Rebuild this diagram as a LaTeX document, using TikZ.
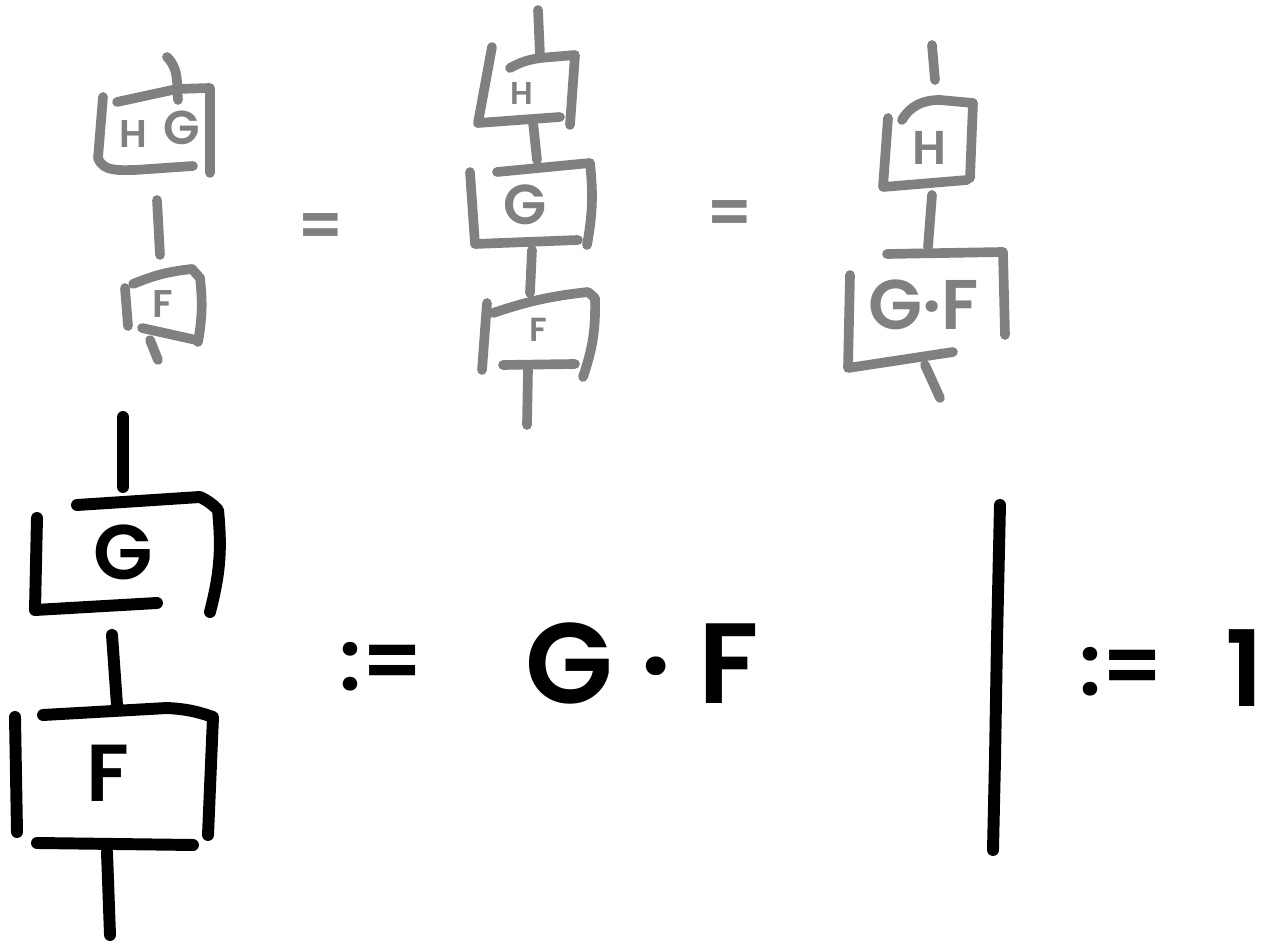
\documentclass[tikz,border=0pt]{standalone}
\usepackage{fontspec}
\setmainfont{Poppins}[BoldFont={Poppins SemiBold}]
\definecolor{pengray}{HTML}{808080}
\usetikzlibrary{positioning, calc}
\tikzset{
	graypen/.style={draw=pengray, line width=5.5pt, line cap=round, line join=round}
}
\tikzset{
	blackpen/.style={draw=black, line width=6.8pt, line cap=round, line join=round}
}
\tikzset{
	graytext/.style={text=pengray, inner sep=0pt, font=\bfseries\fontsize{#1}{#1}\selectfont}
}
\tikzset{
	blacktext/.style={text=black, inner sep=0pt, font=\bfseries\fontsize{#1}{#1}\selectfont}
}

\begin{document}
\begin{tikzpicture}[x=0.02cm, y=-0.02cm]

	\useasboundingbox (0,0) rectangle (1286,945);

	% H on top of G, then F
	\begin{scope}
		\coordinate (hgIn) at (167,57);
		\coordinate (hgTop) at (178,100);
		\coordinate (wAa) at (157,200);
		\coordinate (wAb) at (160,255);
		\coordinate (fAout) at (150,340);
		\coordinate (fAend) at (158,360);

		\draw[graypen] (hgIn) to[out=-45,in=95] (hgTop);
		\draw[graypen] (103,97) -- (98,158) to[out=-70,in=180] (135,170) -- (193,166);
		\draw[graypen] (117,102) -- (177,89) -- (210,88) -- (210,173);
		\node[graytext=22] (hA) at (133,134) {H};
		\node[graytext=27] (gA) at (182,128) {G};

		\draw[graypen] (wAa) -- (wAb);

		\draw[graypen] (133,284) to[bend left=8] (192,269) -- (200,278) to[bend left=8] (198,342);
		\draw[graypen] (125,288) -- (128,326);
		\draw[graypen] (142,328) -- (196,340);
		\node[graytext=22] (fA) at (163,304) {F};
		\draw[graypen] (fAout) -- (fAend);
	\end{scope}

	\node[graytext=36] (eqA) at (321,231) {=};

	% H, G, F stacked
	\begin{scope}
		\coordinate (wBa) at (538,10);
		\coordinate (wBb) at (540,55);
		\coordinate (wBc) at (533,122);
		\coordinate (wBd) at (537,160);
		\coordinate (wBe) at (532,250);
		\coordinate (wBf) at (530,293);
		\coordinate (wBg) at (528,370);
		\coordinate (wBh) at (527,425);

		\draw[graypen] (wBa) -- (wBb);
		\draw[graypen] (492,47) -- (478,123) -- (560,117);
		\draw[graypen] (510,68) to[bend left=10] (540,58) -- (575,55) -- (570,125);
		\node[graytext=18] (hB) at (522,93) {H};

		\draw[graypen] (wBc) -- (wBd);
		\draw[graypen] (470,172) -- (475,244) -- (578,240);
		\draw[graypen] (497,172) -- (590,163) to[bend left=8] (587,245);
		\node[graytext=32] (gB) at (525,205) {G};

		\draw[graypen] (wBe) -- (wBf);
		\draw[graypen] (487,303) -- (482,370);
		\draw[graypen] (493,313) to[bend left=6] (588,292) -- (595,298) to[bend left=10] (583,377);
		\draw[graypen] (503,365) -- (575,364);
		\node[graytext=19] (fB) at (538,330) {F};

		\draw[graypen] (wBg) -- (wBh);
	\end{scope}

	\node[graytext=36] (eqB) at (730,218) {=};

	% H, then the box G.F
	\begin{scope}
		\coordinate (wCa) at (932,45);
		\coordinate (wCb) at (935,80);
		\coordinate (wCc) at (932,195);
		\coordinate (wCd) at (928,247);
		\coordinate (wCe) at (925,365);
		\coordinate (wCf) at (940,398);

		\draw[graypen] (wCa) -- (wCb);
		\draw[graypen] (888,118) -- (883,187) -- (967,180);
		\draw[graypen] (902,120) to[out=60,in=180] (940,100) -- (973,103) -- (970,178);
		\node[graytext=27] (hC) at (930,148) {H};

		\draw[graypen] (wCc) -- (wCd);
		\draw[graypen] (887,254) -- (1003,252) -- (1005,335);
		\draw[graypen] (850,275) -- (848,368) -- (953,352);
		\node[graytext=40] (gfC) at (924,305) {G·F};

		\draw[graypen] (wCe) -- (wCf);
	\end{scope}

	% G on top of F, in black
	\begin{scope}
		\coordinate (wDa) at (123,417);
		\coordinate (wDb) at (123,487);
		\coordinate (wDc) at (112,635);
		\coordinate (wDd) at (117,705);
		\coordinate (wDe) at (107,852);
		\coordinate (wDf) at (110,935);

		\draw[blackpen] (wDa) -- (wDb);
		\draw[blackpen] (77,505) -- (200,497) to[bend left=10] (218,510) to[bend left=10] (210,612);
		\draw[blackpen] (37,518) -- (35,610) -- (157,603);
		\node[blacktext=44] (gD) at (123,552) {G};

		\draw[blackpen] (wDc) -- (wDd);
		\draw[blackpen] (43,715) -- (167,708) to[bend left=8] (213,717) -- (208,835);
		\draw[blackpen] (15,717) -- (17,832);
		\draw[blackpen] (37,843) -- (193,845);
		\node[blacktext=46] (fD) at (108,773) {F};

		\draw[blackpen] (wDe) -- (wDf);
	\end{scope}

	\node[blacktext=48] (defA) at (382,667) {:=};
	\node[blacktext=65] (gfD) at (642,663) {G · F};

	% the bare wire
	\coordinate (idTop) at (1000,505);
	\coordinate (idBot) at (993,850);
	\draw[blackpen] (idTop) -- (997,640) -- (995,760) -- (idBot);

	\node[blacktext=48] (defB) at (1122,672) {:=};
	\node[blacktext=60] (one) at (1245,668) {1};

\end{tikzpicture}
\end{document}
